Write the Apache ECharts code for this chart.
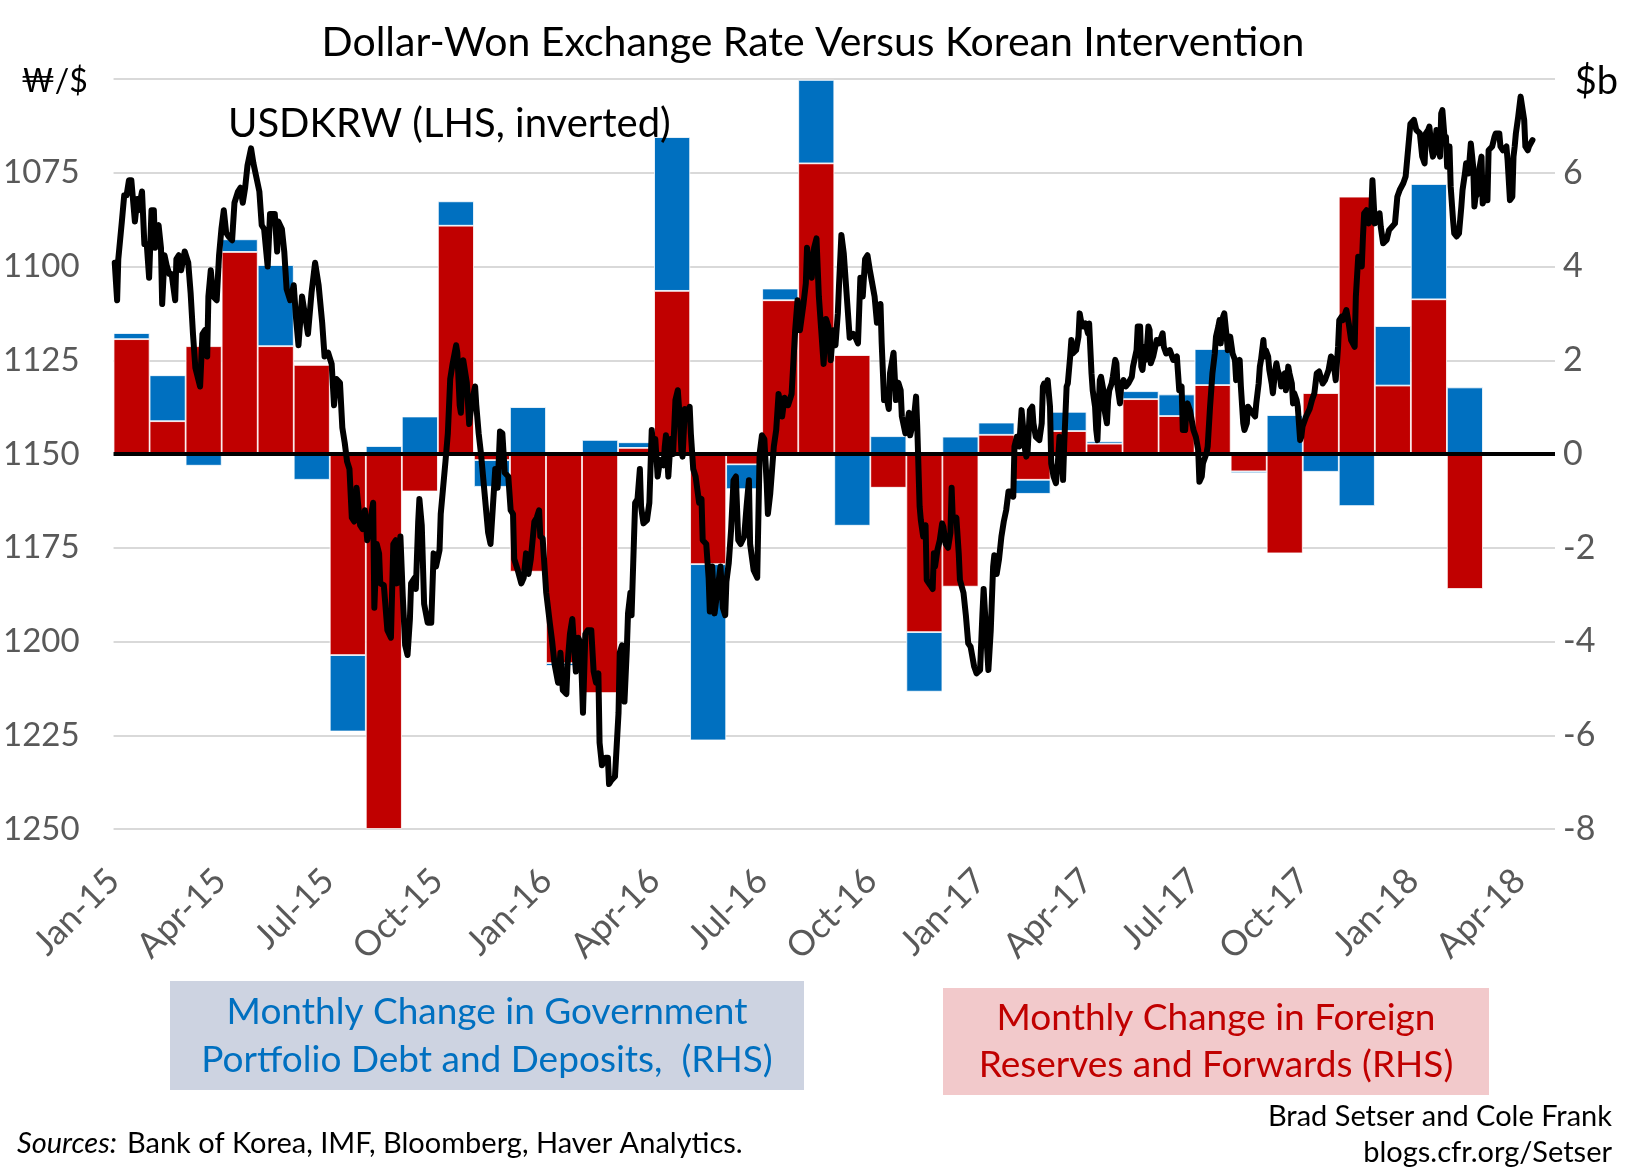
<!DOCTYPE html>
<html>
<head>
<meta charset="utf-8">
<script src="https://cdn.jsdelivr.net/npm/echarts@6/dist/echarts.min.js"></script>
<style>
html,body{margin:0;padding:0;background:#ffffff;}
#chart{width:1628px;height:1172px;}
</style>
</head>
<body>
<div id="chart"></div>
<script>
// ---------- DATA ----------
const months = ['Jan-15','Feb-15','Mar-15','Apr-15','May-15','Jun-15','Jul-15','Aug-15','Sep-15','Oct-15','Nov-15','Dec-15',
  'Jan-16','Feb-16','Mar-16','Apr-16','May-16','Jun-16','Jul-16','Aug-16','Sep-16','Oct-16','Nov-16','Dec-16',
  'Jan-17','Feb-17','Mar-17','Apr-17','May-17','Jun-17','Jul-17','Aug-17','Sep-17','Oct-17','Nov-17','Dec-17',
  'Jan-18','Feb-18','Mar-18','Apr-18'];

// Monthly change in foreign reserves and forwards ($b, RHS)
const reservesForwards = [2.45,0.70,2.30,4.31,2.30,1.90,-4.29,-8.0,-0.80,4.87,-0.13,-2.51,
  -4.46,-5.10,0.13,3.48,-2.35,-0.22,3.28,6.20,2.11,-0.72,-3.80,-2.83,
  0.41,-0.55,0.49,0.22,1.17,0.81,1.47,-0.37,-2.12,1.30,5.49,1.46,
  3.30,-2.88,null,null];

// Monthly change in government portfolio debt and deposits ($b, RHS)
const govPortfolio = [0.13,0.98,-0.25,0.27,1.73,-0.55,-1.63,0.17,0.80,0.52,-0.57,1.00,
  -0.06,0.30,0.12,3.28,-3.76,-0.53,0.25,1.78,-1.53,0.38,-1.27,0.37,
  0.26,-0.30,0.41,0.05,0.17,0.46,0.77,-0.04,0.83,-0.38,-1.11,1.27,
  2.46,1.42,null,null];

// USDKRW (LHS, inverted)
const usdkrwDates = [
'2015-01-02','2015-01-04','2015-01-05','2015-01-08','2015-01-10','2015-01-12','2015-01-14','2015-01-16','2015-01-19','2015-01-21',
'2015-01-22','2015-01-25','2015-01-26','2015-01-27','2015-01-29','2015-01-31','2015-02-02','2015-02-04','2015-02-05','2015-02-06',
'2015-02-08','2015-02-10','2015-02-11','2015-02-13','2015-02-15','2015-02-17','2015-02-19','2015-02-22','2015-02-23','2015-02-25',
'2015-02-27','2015-03-02','2015-03-05','2015-03-07','2015-03-09','2015-03-11','2015-03-15','2015-03-17','2015-03-19','2015-03-21',
'2015-03-22','2015-03-24','2015-03-26','2015-03-29','2015-03-31','2015-04-02','2015-04-04','2015-04-06','2015-04-08','2015-04-11',
'2015-04-13','2015-04-16','2015-04-18','2015-04-20','2015-04-22','2015-04-24','2015-04-27','2015-04-29','2015-05-02','2015-05-04',
'2015-05-06','2015-05-08','2015-05-11','2015-05-13','2015-05-17','2015-05-19','2015-05-20','2015-05-23','2015-05-25','2015-05-27',
'2015-05-30','2015-06-02','2015-06-04','2015-06-06','2015-06-09','2015-06-12','2015-06-14','2015-06-17','2015-06-20','2015-06-23',
'2015-06-26','2015-06-28','2015-07-01','2015-07-04','2015-07-06','2015-07-08','2015-07-11','2015-07-13','2015-07-15','2015-07-17',
'2015-07-19','2015-07-21','2015-07-23','2015-07-25','2015-07-28','2015-07-30','2015-08-01','2015-08-03','2015-08-06','2015-08-08',
'2015-08-09','2015-08-11','2015-08-13','2015-08-14','2015-08-17','2015-08-20','2015-08-23','2015-08-25','2015-08-27','2015-08-28',
'2015-08-31','2015-09-02','2015-09-04','2015-09-06','2015-09-08','2015-09-09','2015-09-12','2015-09-13','2015-09-15','2015-09-16',
'2015-09-18','2015-09-20','2015-09-23','2015-09-26','2015-09-28','2015-09-30','2015-10-03','2015-10-04','2015-10-06','2015-10-08',
'2015-10-10','2015-10-12','2015-10-14','2015-10-17','2015-10-18','2015-10-20','2015-10-21','2015-10-23','2015-10-26','2015-10-28',
'2015-10-30','2015-11-02','2015-11-03','2015-11-05','2015-11-07','2015-11-10','2015-11-13','2015-11-15','2015-11-17','2015-11-19',
'2015-11-21','2015-11-23','2015-11-25','2015-11-27','2015-11-30','2015-12-02','2015-12-04','2015-12-05','2015-12-08','2015-12-11',
'2015-12-13','2015-12-15','2015-12-17','2015-12-19','2015-12-22','2015-12-24','2015-12-26','2015-12-27','2015-12-29',
'2016-01-01','2016-01-04','2016-01-06','2016-01-08','2016-01-11','2016-01-13','2016-01-15','2016-01-18','2016-01-19','2016-01-21',
'2016-01-23','2016-01-26','2016-01-28','2016-01-30','2016-02-01','2016-02-03','2016-02-05','2016-02-08','2016-02-10','2016-02-12',
'2016-02-14','2016-02-15','2016-02-17','2016-02-20','2016-02-22','2016-02-23','2016-02-25','2016-02-28','2016-03-02','2016-03-03',
'2016-03-05','2016-03-07','2016-03-09','2016-03-10','2016-03-12','2016-03-13','2016-03-16','2016-03-18','2016-03-20','2016-03-21',
'2016-03-23','2016-03-26','2016-03-28','2016-03-30','2016-04-01','2016-04-02','2016-04-04','2016-04-06','2016-04-09','2016-04-10',
'2016-04-11','2016-04-13','2016-04-15','2016-04-17','2016-04-19','2016-04-21','2016-04-23','2016-04-24','2016-04-25','2016-04-27',
'2016-04-29','2016-05-01','2016-05-02','2016-05-04','2016-05-06','2016-05-09','2016-05-11','2016-05-12','2016-05-15','2016-05-17',
'2016-05-18','2016-05-20','2016-05-22','2016-05-25','2016-05-27','2016-05-29','2016-05-31','2016-06-01','2016-06-03','2016-06-05',
'2016-06-07','2016-06-09','2016-06-11','2016-06-13','2016-06-16','2016-06-18','2016-06-20','2016-06-21','2016-06-24','2016-06-27',
'2016-06-29','2016-07-01','2016-07-03','2016-07-05','2016-07-06','2016-07-08','2016-07-11','2016-07-13','2016-07-15','2016-07-18',
'2016-07-20','2016-07-23','2016-07-26','2016-07-29','2016-07-31','2016-08-02','2016-08-05','2016-08-07','2016-08-08','2016-08-11',
'2016-08-12','2016-08-14','2016-08-16','2016-08-18','2016-08-20','2016-08-22','2016-08-24','2016-08-26','2016-08-28','2016-08-30',
'2016-09-01','2016-09-03','2016-09-04','2016-09-06','2016-09-08','2016-09-11','2016-09-13','2016-09-16','2016-09-18','2016-09-20',
'2016-09-22','2016-09-24','2016-09-26','2016-09-28','2016-09-30','2016-10-02','2016-10-04','2016-10-06','2016-10-09','2016-10-10',
'2016-10-12','2016-10-14','2016-10-16','2016-10-17','2016-10-20','2016-10-22','2016-10-24','2016-10-26','2016-10-27','2016-10-30',
'2016-11-01','2016-11-02','2016-11-03','2016-11-06','2016-11-08','2016-11-09','2016-11-11','2016-11-12','2016-11-14','2016-11-16',
'2016-11-17','2016-11-20','2016-11-22','2016-11-23','2016-11-24','2016-11-26','2016-11-28','2016-11-30','2016-12-01','2016-12-03',
'2016-12-05','2016-12-07','2016-12-08','2016-12-09','2016-12-12','2016-12-14','2016-12-15','2016-12-18','2016-12-20','2016-12-22',
'2016-12-24','2016-12-27','2016-12-29',
'2017-01-01','2017-01-03','2017-01-04','2017-01-06','2017-01-08','2017-01-10','2017-01-12','2017-01-13','2017-01-15','2017-01-17',
'2017-01-19','2017-01-21','2017-01-23','2017-01-25','2017-01-27','2017-01-29','2017-01-30','2017-02-01','2017-02-03','2017-02-05',
'2017-02-06','2017-02-08','2017-02-09','2017-02-10','2017-02-12','2017-02-14','2017-02-15','2017-02-17','2017-02-20','2017-02-22',
'2017-02-23','2017-02-24','2017-02-26','2017-02-27','2017-03-01','2017-03-02','2017-03-04','2017-03-06','2017-03-08','2017-03-09',
'2017-03-11','2017-03-12','2017-03-13','2017-03-15','2017-03-16','2017-03-18','2017-03-19','2017-03-20','2017-03-23','2017-03-25',
'2017-03-26','2017-03-27','2017-03-29','2017-03-31','2017-04-02','2017-04-03','2017-04-05','2017-04-06','2017-04-08','2017-04-09',
'2017-04-10','2017-04-12','2017-04-13','2017-04-15','2017-04-16','2017-04-18','2017-04-19','2017-04-20','2017-04-22','2017-04-23',
'2017-04-25','2017-04-26','2017-04-27','2017-04-29','2017-04-30','2017-05-02','2017-05-04','2017-05-06','2017-05-09','2017-05-10',
'2017-05-13','2017-05-14','2017-05-16','2017-05-17','2017-05-18','2017-05-20','2017-05-21','2017-05-23','2017-05-24','2017-05-25',
'2017-05-27','2017-05-30','2017-06-01','2017-06-04','2017-06-05','2017-06-07','2017-06-10','2017-06-13','2017-06-16','2017-06-17',
'2017-06-18','2017-06-20','2017-06-21','2017-06-23','2017-06-24','2017-06-25','2017-06-27','2017-06-28','2017-06-30','2017-07-02',
'2017-07-04','2017-07-05','2017-07-07','2017-07-08','2017-07-11','2017-07-12','2017-07-14','2017-07-15','2017-07-16','2017-07-18',
'2017-07-19','2017-07-21','2017-07-22','2017-07-23','2017-07-25','2017-07-26','2017-07-28','2017-07-29','2017-07-31','2017-08-02',
'2017-08-04','2017-08-05','2017-08-07','2017-08-08','2017-08-09','2017-08-11','2017-08-12','2017-08-14','2017-08-15','2017-08-16',
'2017-08-19','2017-08-21','2017-08-22','2017-08-24','2017-08-25','2017-08-26','2017-08-28','2017-08-29','2017-08-30','2017-09-01',
'2017-09-02','2017-09-04','2017-09-05','2017-09-07','2017-09-08','2017-09-09','2017-09-11','2017-09-12','2017-09-14','2017-09-15',
'2017-09-16','2017-09-18','2017-09-19','2017-09-21','2017-09-22','2017-09-23','2017-09-25','2017-09-26','2017-09-28','2017-09-29',
'2017-09-30','2017-10-03','2017-10-06','2017-10-08','2017-10-10','2017-10-12','2017-10-14','2017-10-17','2017-10-19','2017-10-22',
'2017-10-24','2017-10-26','2017-10-28','2017-10-30','2017-10-31','2017-11-02','2017-11-03','2017-11-06','2017-11-08','2017-11-10',
'2017-11-13','2017-11-14','2017-11-16','2017-11-17','2017-11-19','2017-11-20','2017-11-21','2017-11-23','2017-11-25','2017-11-27',
'2017-11-28','2017-11-30','2017-12-01','2017-12-04','2017-12-05','2017-12-07','2017-12-10','2017-12-12','2017-12-17','2017-12-19',
'2017-12-21','2017-12-24','2017-12-26','2017-12-28','2017-12-30',
'2018-01-02','2018-01-04','2018-01-07','2018-01-09','2018-01-11','2018-01-12','2018-01-14','2018-01-15','2018-01-17','2018-01-18',
'2018-01-19','2018-01-21','2018-01-22','2018-01-24','2018-01-25','2018-01-26','2018-01-28','2018-01-29','2018-01-30','2018-02-01',
'2018-02-02','2018-02-04','2018-02-05','2018-02-07','2018-02-09','2018-02-11','2018-02-12','2018-02-14','2018-02-15','2018-02-17',
'2018-02-19','2018-02-21','2018-02-22','2018-02-23','2018-02-25','2018-02-26','2018-02-28','2018-03-01','2018-03-02','2018-03-05',
'2018-03-06','2018-03-09','2018-03-11','2018-03-12','2018-03-15','2018-03-16','2018-03-18','2018-03-19','2018-03-21','2018-03-22',
'2018-03-24','2018-03-26','2018-03-27','2018-03-28','2018-03-29','2018-03-31','2018-04-02','2018-04-03','2018-04-05','2018-04-06',
'2018-04-08','2018-04-09','2018-04-12'
];
const usdkrwValues = [
1099,1109,1098,1088,1081,1081,1077,1077,1088,1082,
1085,1080,1080,1094,1094,1103,1085,1085,1095,1090,
1089,1095,1110,1097,1100,1102,1102,1109,1098,1097,
1101,1096,1099,1107,1118,1127,1132,1118,1117,1124,
1108,1101,1108,1109,1097,1090,1085,1091,1092,1093,
1083,1080,1079,1083,1079,1073,1068.5,1072.5,1077,1080,
1089,1090,1100,1086,1086,1096,1088,1090,1096,1106,
1109,1105,1114,1121,1108,1114,1118,1107,1099,1105,
1115,1124,1123,1126,1137,1130,1131,1143,1147,1152,
1154,1167,1168,1159,1169,1170,1165,1173,1167,1163,
1191,1174,1176.5,1184.5,1185,1197,1199,1174,1173,1184.5,
1172,1188,1201,1203.6,1194,1184.5,1183,1186,1168,1162,
1169,1190,1195,1195,1176.5,1180,1175.6,1166,1159,1152,
1144.5,1130,1126,1121,1123,1137,1139,1125,1131,1142,
1136.5,1132,1137,1144.5,1150,1160.5,1171,1174,1164,1154,
1159,1144,1144.5,1155,1156,1165,1166,1178,1181,1184.5,
1183,1176.5,1182,1178,1168,1167,1165,1172,1172.5,
1187,1195,1200,1206,1211,1203,1213,1214,1206,1198,
1194,1208,1199,1200.5,1219,1198,1197,1197,1208,1211,
1208.5,1227,1233,1231,1231,1238,1237,1236,1219,1203,
1201,1216,1202,1192.5,1187,1193,1163,1162,1154,1164,
1168.5,1167.6,1163,1143.6,1150.7,1146,1156,1151.6,1153,1148,
1145,1156,1146,1150,1135.6,1133,1142,1149,1150.7,1138,
1139,1137.4,1144.5,1154,1156,1163,1162,1173,1174,1183,
1192,1180,1192.5,1185,1180,1191,1193,1184,1179,1170,
1157,1156,1173,1174,1172,1164,1157,1174,1181,1183,
1150,1145,1146,1158,1166,1160.5,1148,1143.6,1134,1140,
1135,1137,1134,1117,1109,1117,1110,1104.5,1095,1101,
1103,1095,1092.5,1108,1117,1126,1114,1116,1125,1117,
1121,1112.5,1105,1091.6,1096.5,1110,1119,1118,1119,1120.5,
1103,1108,1098,1097,1101,1104.5,1108,1115,1110,1120.5,
1135.6,1134.7,1138,1128.5,1123,1135.6,1131,1133,1140,1144.5,
1141,1139,1145,1141,1134.7,1142.7,1164,1167.6,1172,1169,
1183.6,1185,1186,1176.5,1180,1175.6,1173,1168.5,1169.4,1174,
1175,1171,1159,1167.6,1167,1176.5,1183.6,1187,1193,1200.5,
1201.4,1206.7,1208.5,
1207.6,1192.5,1186,1197,1207.6,1197,1180,1177,1182,1178,
1172,1168,1165,1160,1160,1161.4,1148,1145.4,1148,1138.3,
1138.3,1149,1150.7,1149.8,1138.3,1137.4,1141.8,1145.4,1146.3,1141.8,
1132,1131.2,1133,1130.3,1137.4,1152.5,1156,1157.8,1150.7,1145.4,
1148,1156.9,1147.2,1132,1131.2,1124,1119.6,1123.2,1122.3,1118.7,
1112.5,1114.3,1116,1115.2,1117.8,1115.2,1128.5,1133,1137.4,1143.6,
1146.3,1130.3,1129.4,1133,1138.3,1141.8,1135.6,1133,1131.2,1129.4,
1124.9,1125.8,1132,1136.5,1132,1130.3,1132,1131.2,1129.4,1126.7,
1122.3,1116,1116,1126.7,1127.6,1121.4,1124.9,1116,1116.9,1125.8,
1124,1119.6,1120.5,1117.8,1121.4,1123.2,1122.3,1124.9,1124,1128.5,
1133,1132,1143.6,1143.6,1138.3,1136.5,1138.3,1140,1143.6,1145.4,
1148.9,1157.4,1156,1152.5,1149.8,1148,1137.4,1133,1128.5,1123.2,
1118.7,1116,1114.3,1120.5,1113.4,1112.5,1118.7,1122.3,1118.7,1123.2,
1124.9,1130.3,1126.7,1124.9,1132,1141.8,1143.6,1141.8,1137.4,1137.4,
1139.2,1140,1136.5,1131.2,1126.7,1124.9,1119.6,1124,1122.3,1124,
1127.6,1131.2,1133.8,1127.6,1125.8,1127.6,1129.4,1132,1130.3,1128.5,
1133,1126.7,1128.5,1131.2,1136.5,1133.8,1135.6,1137.4,1146.3,1145.4,
1142.7,1140,1138,1135.6,1133.8,1128.5,1128,1131.2,1130.3,1127.6,
1124,1124.9,1130.3,1121.4,1114.3,1113.4,1114.3,1111.6,1115.2,1119.6,
1121.4,1108,1097.4,1098.3,1100,1092,1085.8,1085,1088.5,1085.8,
1077,1088.5,1088.5,1085.8,1089.4,1093.8,1092.9,1090.3,1088.5,1081.4,
1079.6,1077.8,1076,1069,1062,
1060.9,1063.6,1064.5,1070.7,1072.5,1064.5,1063.6,1062.7,1068.9,1070.7,
1069.8,1063.6,1066.3,1070.7,1059.2,1058.3,1066.3,1065.4,1073.4,1068,
1078.7,1087.6,1091.2,1092,1091.2,1084,1079.6,1075.2,1072.5,1075.2,
1067.2,1073.4,1084,1081.4,1080.5,1074.3,1070.7,1083.2,1082.3,1082.3,
1069,1068,1065.4,1064.5,1064.5,1068,1069,1069,1068,1071.6,
1082.3,1081.4,1070.7,1068,1064.5,1060,1054.7,1054.7,1060.9,1068,
1069,1068,1066.3
];

// x-axis tick labels (quarterly)
const tickDates = ['2015-01-01','2015-04-01','2015-07-01','2015-10-01','2016-01-01','2016-04-01','2016-07-01','2016-10-01',
  '2017-01-01','2017-04-01','2017-07-01','2017-10-01','2018-01-01','2018-04-01'];
const tickLabels = ['Jan-15','Apr-15','Jul-15','Oct-15','Jan-16','Apr-16','Jul-16','Oct-16',
  'Jan-17','Apr-17','Jul-17','Oct-17','Jan-18','Apr-18'];

// ---------- CHART ----------
// dates are turned into day numbers counted from 2015-01-01 (value axis)
function toDay(s) { const p = s.split('-').map(Number); return Math.round((Date.UTC(p[0], p[1] - 1, p[2]) - Date.UTC(2015, 0, 1)) / 86400000); }
const FONT = 'Lato, "Noto Sans", sans-serif';
const tickDays = tickDates.map(toDay);
const lineData = usdkrwDates.map((d, i) => [toDay(d), usdkrwValues[i]]);

const chart = echarts.init(document.getElementById('chart'), null, { renderer: 'canvas' });

const option = {
  animation: false,
  backgroundColor: '#ffffff',
  grid: { left: 113, right: 73, top: 79, bottom: 343, containLabel: false },
  xAxis: [
    {
      type: 'value',
      min: toDay('2015-01-01'),
      max: toDay('2018-05-01'),
      axisLine: { show: false },
      axisTick: { show: false },
      splitLine: { show: false },
      axisLabel: {
        customValues: tickDays,
        rotate: 45,
        margin: 46,
        fontSize: 35,
        fontFamily: FONT,
        color: '#595959',
        hideOverlap: false,
        formatter: function (v) {
          const i = tickDays.indexOf(Math.round(v));
          return i >= 0 ? tickLabels[i] : '';
        }
      }
    },
    {
      type: 'category',
      data: months,
      show: false,
      boundaryGap: true
    }
  ],
  yAxis: [
    {
      type: 'value',
      position: 'left',
      inverse: true,
      min: 1050, max: 1250, interval: 25,
      axisLine: { show: false },
      axisTick: { show: false },
      splitLine: { lineStyle: { color: '#D9D9D9', width: 2 } },
      axisLabel: {
        fontSize: 33, fontFamily: FONT, color: '#595959', margin: 34,
        formatter: v => (v === 1050 ? '' : String(v))
      }
    },
    {
      type: 'value',
      position: 'right',
      min: -8, max: 8, interval: 2,
      axisLine: { show: false },
      axisTick: { show: false },
      splitLine: { show: false },
      axisLabel: {
        fontSize: 34, fontFamily: FONT, color: '#595959', margin: 8,
        formatter: v => (v === 8 ? '' : String(v))
      }
    }
  ],
  series: [
    {
      name: 'Monthly Change in Foreign Reserves and Forwards (RHS)',
      type: 'bar',
      xAxisIndex: 1, yAxisIndex: 1,
      stack: 'intervention',
      barCategoryGap: '0%',
      data: reservesForwards,
      itemStyle: { color: '#C00000', borderColor: '#ffffff', borderWidth: 0.8 },
      z: 2,
      markLine: {
        silent: true,
        symbol: ['none', 'none'],
        label: { show: false },
        lineStyle: { color: '#000000', width: 4, type: 'solid' },
        data: [{ yAxis: 0 }]
      }
    },
    {
      name: 'Monthly Change in Government Portfolio Debt and Deposits (RHS)',
      type: 'bar',
      xAxisIndex: 1, yAxisIndex: 1,
      stack: 'intervention',
      barCategoryGap: '0%',
      data: govPortfolio,
      itemStyle: { color: '#0070C0', borderColor: '#ffffff', borderWidth: 0.8 },
      z: 2
    },
    {
      name: 'USDKRW (LHS, inverted)',
      type: 'line',
      xAxisIndex: 0, yAxisIndex: 0,
      data: lineData,
      showSymbol: false,
      symbol: 'none',
      lineStyle: { color: '#000000', width: 6, join: 'round', cap: 'round' },
      z: 6
    }
  ],
  graphic: [
    { type: 'text', x: 813, y: 43, style: { text: 'Dollar-Won Exchange Rate Versus Korean Intervention', font: '41px ' + FONT, fill: '#000', textAlign: 'center', textVerticalAlign: 'middle' } },
    { type: 'text', x: 21, y: 82, style: { text: '₩/$', font: '32px ' + FONT, fill: '#000', textAlign: 'left', textVerticalAlign: 'middle' } },
    { type: 'text', x: 1618, y: 82, style: { text: '$b', font: '38px ' + FONT, fill: '#000', textAlign: 'right', textVerticalAlign: 'middle' } },
    { type: 'text', x: 228, y: 124, z: 10, style: { text: 'USDKRW (LHS, inverted)', font: '40px ' + FONT, fill: '#000', textAlign: 'left', textVerticalAlign: 'middle' } },
    { type: 'rect', shape: { x: 170, y: 981, width: 634, height: 109 }, style: { fill: '#CDD3E1' } },
    { type: 'text', x: 487, y: 1012, style: { text: 'Monthly Change in Government', font: '37px ' + FONT, fill: '#0070C0', textAlign: 'center', textVerticalAlign: 'middle' } },
    { type: 'text', x: 487, y: 1060, style: { text: 'Portfolio Debt and Deposits,  (RHS)', font: '37px ' + FONT, fill: '#0070C0', textAlign: 'center', textVerticalAlign: 'middle' } },
    { type: 'rect', shape: { x: 943, y: 988, width: 546, height: 107 }, style: { fill: '#F2C9CB' } },
    { type: 'text', x: 1216, y: 1018, style: { text: 'Monthly Change in Foreign', font: '37px ' + FONT, fill: '#C00000', textAlign: 'center', textVerticalAlign: 'middle' } },
    { type: 'text', x: 1216, y: 1065, style: { text: 'Reserves and Forwards (RHS)', font: '37px ' + FONT, fill: '#C00000', textAlign: 'center', textVerticalAlign: 'middle' } },
    { type: 'text', x: 17, y: 1144, style: { text: 'Sources:', font: 'italic 29px ' + FONT, fill: '#000', textAlign: 'left', textVerticalAlign: 'middle' } },
    { type: 'text', x: 127, y: 1144, style: { text: 'Bank of Korea, IMF, Bloomberg, Haver Analytics.', font: '29px ' + FONT, fill: '#000', textAlign: 'left', textVerticalAlign: 'middle' } },
    { type: 'text', x: 1612, y: 1117, style: { text: 'Brad Setser and Cole Frank', font: '29px ' + FONT, fill: '#000', textAlign: 'right', textVerticalAlign: 'middle' } },
    { type: 'text', x: 1612, y: 1153, style: { text: 'blogs.cfr.org/Setser', font: '29px ' + FONT, fill: '#000', textAlign: 'right', textVerticalAlign: 'middle' } }
  ]
};

chart.setOption(option);
</script>
</body>
</html>
